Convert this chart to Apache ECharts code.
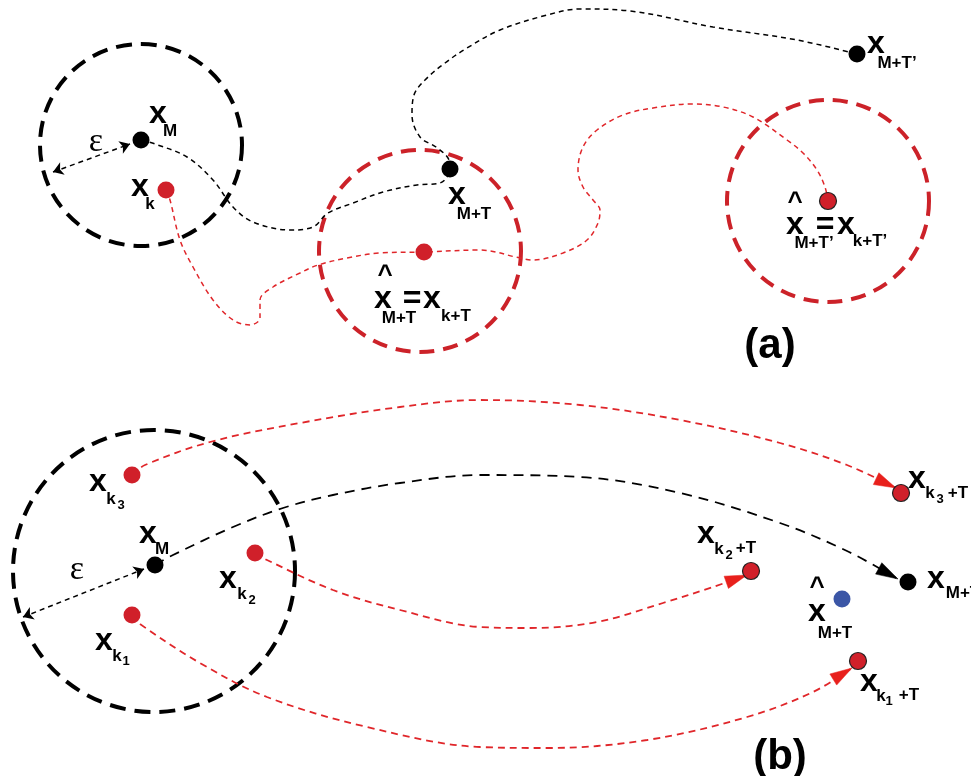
<!DOCTYPE html>
<html>
<head>
<meta charset="utf-8">
<script src="https://cdn.jsdelivr.net/npm/echarts@6/dist/echarts.min.js"></script>
<style>
  html, body { margin: 0; padding: 0; background: #fff; }
  #main { width: 971px; height: 776px; }
</style>
</head>
<body>
<div id="main"></div>
<script>
// picture coordinates: x to the right, y downwards (0..971, 0..776)

// (a) trajectories
const blackPathA = [[141,140],[155,144],[187,157],[213,180],[233,207],[253,222],[290,230],[313,227],[328,213],[353,203],[383,192],[417,185],[440,183],[450,169],[448,158],[436,147],[420,137],[412,115],[414,95],[425,80],[445,63],[467,48],[500,30],[547,15],[580,9],[630,11],[713,27],[797,40],[857,54]];
const redPathA = [[166,190],[170,200],[180,240],[193,267],[213,300],[233,320],[250,325],[260,318],[260,300],[273,287],[300,273],[318,265],[347,258],[380,253],[424,252],[480,250],[520,258],[533,260],[563,253],[587,240],[598,223],[600,210],[593,200],[583,187],[578,170],[583,147],[597,130],[623,115],[653,108],[693,104],[723,107],[753,117],[787,140],[803,153],[817,170],[825,187],[828,201]];

// (b) trajectories, each ends at the tip of its arrow head
const redPathK3 = [[132,475],[145,465],[210,442],[300,423],[400,407],[480,400],[580,405],[680,420],[780,443],[847,465],[896,488]];
const blackPathM = [[155,565],[173,555],[233,527],[283,508],[333,495],[400,483],[480,475],[580,477],[680,493],[780,523],[847,551],[898,579]];
const redPathK2 = [[255,553],[267,560],[333,590],[400,610],[480,627],[530,628],[597,622],[663,603],[713,587],[747,575]];
const redPathK1 = [[132,615],[140,624],[200,663],[267,697],[367,727],[480,747],[547,748],[647,740],[747,717],[813,692],[852,668]];

// epsilon radius arrows
const epsA = [[53,172],[130,144]];
const epsB = [[23,617],[144,569]];

// neighbourhoods [cx, cy, r]
const blackCircles = [[141,145,101],[154,571,141]];
const redCircles = [[420,251,101],[828,201,101]];

// points
const blackDots = [[141,140],[450,169],[857,54],[155,565],[908,582]];
const redDots = [[166,190],[424,252],[132,475],[255,553],[132,615]];
const redRimDots = [[828,201],[901,493],[751,571],[858,661]];
const blueDots = [[842,599]];

// labels: [text, x, y, size, kind]
const labels = [
  ['x',158,114,32],['M',170,131,17],
  ['x',140,187,32],['k',150,204,17],
  ['ε',96,142,34,'serif'],
  ['x',457,195,32],['M+T',474,214,17],
  ['^',385,276,26],['x',383,299,32],['=',412,299,32],['x',432,299,32],['M+T',399,318,17],['k+T',456,316,17],
  ['x',876,44,32],['M+T’',897,63,17],
  ['^',795,203,26],['x',795,225,32],['=',825,225,32],['x',846,225,32],['M+T’',814,243,17],['k+T’',870,241,17],
  ['(a)',770,346,42],
  ['x',98,482,32],['k',111,499,17],['3',121,505,13],
  ['x',148,534,32],['M',162,549,17],
  ['ε',77,570,34,'serif'],
  ['x',228,579,32],['k',242,594,17],['2',252,600,13],
  ['x',104,641,32],['k',117,656,17],['1',126,661,13],
  ['x',917,479,32],['k',930,493,17],['3',940,499,13],['+T',958,493,17],
  ['x',936,579,32],['M+T',963,593,17],
  ['x',706,534,32],['k',719,549,17],['2',729,555,13],['+T',746,548,17],
  ['^',817,588,26],['x',817,612,32],['M+T',835,633,17],
  ['x',869,682,32],['k',881,696,17],['1',889,701,13],['+T',909,695,17],
  ['(b)',780,757,42]
];

const RED = '#d0202a';
const RED_LINE = '#e0262a';
const RED_HEAD = '#e8201c';

const chart = echarts.init(document.getElementById('main'));

function path(data, color, width, dash) {
  return {
    type: 'line', data: data, smooth: 0.35, symbol: 'none', silent: true,
    lineStyle: { color: color, width: width, type: dash }, z: 2
  };
}

// filled triangle whose tip is the last point of a path
function arrowHead(data, color) {
  const n = data.length;
  return {
    type: 'custom', silent: true, z: 3,
    data: [[data[n - 2][0], data[n - 2][1], data[n - 1][0], data[n - 1][1]]],
    renderItem: function (params, api) {
      const a = api.coord([api.value(0), api.value(1)]);
      const b = api.coord([api.value(2), api.value(3)]);
      const dx = b[0] - a[0], dy = b[1] - a[1];
      const len = Math.sqrt(dx * dx + dy * dy);
      const ux = dx / len, uy = dy / len;
      const L = 22, W = 6.5;
      const bx = b[0] - ux * L, by = b[1] - uy * L;
      return {
        type: 'polygon',
        shape: { points: [b, [bx - uy * W, by + ux * W], [bx + uy * W, by - ux * W]] },
        style: { fill: color, stroke: color, lineWidth: 0.5 }
      };
    }
  };
}

function epsArrow(data) {
  return {
    type: 'lines', coordinateSystem: 'cartesian2d', silent: true, z: 3,
    symbol: ['arrow', 'arrow'], symbolSize: 10,
    lineStyle: { color: '#000', width: 1.5, type: [5, 4], opacity: 1 },
    data: [{ coords: data }]
  };
}

function circles(data, color, dash) {
  return {
    type: 'custom', data: data, silent: true, z: 1,
    renderItem: function (params, api) {
      const c = api.coord([api.value(0), api.value(1)]);
      const r = api.size([api.value(2), 0])[0];
      return {
        type: 'circle', shape: { cx: c[0], cy: c[1], r: r },
        style: { fill: 'none', stroke: color, lineWidth: 4, lineDash: dash }
      };
    }
  };
}

function dots(data, color, border) {
  return {
    type: 'scatter', data: data, symbolSize: 17, silent: true, z: 5,
    itemStyle: { color: color, borderColor: border ? '#222' : color, borderWidth: border ? 1.2 : 0, opacity: 1 }
  };
}

const texts = labels.map(function (l) {
  const font = l[4] === 'serif'
    ? l[3] + 'px "Liberation Serif"'
    : 'bold ' + l[3] + 'px "Liberation Sans"';
  return {
    type: 'text', x: l[1], y: l[2], silent: true, z: 10,
    style: {
      text: l[0], font: font, fill: '#000',
      align: 'center', verticalAlign: 'middle',
      textAlign: 'center', textVerticalAlign: 'middle'
    }
  };
});

chart.setOption({
  animation: false,
  backgroundColor: '#fff',
  grid: { left: 0, right: 0, top: 0, bottom: 0 },
  xAxis: { type: 'value', min: 0, max: 971, show: false },
  yAxis: { type: 'value', min: 0, max: 776, inverse: true, show: false },
  graphic: texts,
  series: [
    circles(blackCircles, '#000', [16, 9]),
    circles(redCircles, '#cc2229', [15, 9]),
    path(blackPathA, '#000', 1.5, [5, 4]),
    path(redPathA, RED_LINE, 1.5, [5, 4]),
    path(redPathK3, RED_LINE, 1.8, [7, 5]),
    path(blackPathM, '#000', 1.8, [10, 7]),
    path(redPathK2, RED_LINE, 1.8, [7, 5]),
    path(redPathK1, RED_LINE, 1.8, [7, 5]),
    arrowHead(redPathK3, RED_HEAD),
    arrowHead(blackPathM, '#000'),
    arrowHead(redPathK2, RED_HEAD),
    arrowHead(redPathK1, RED_HEAD),
    epsArrow(epsA),
    epsArrow(epsB),
    dots(blackDots, '#000', false),
    dots(redDots, RED, false),
    dots(redRimDots, RED, true),
    dots(blueDots, '#3b56a6', false)
  ]
});
</script>
</body>
</html>
